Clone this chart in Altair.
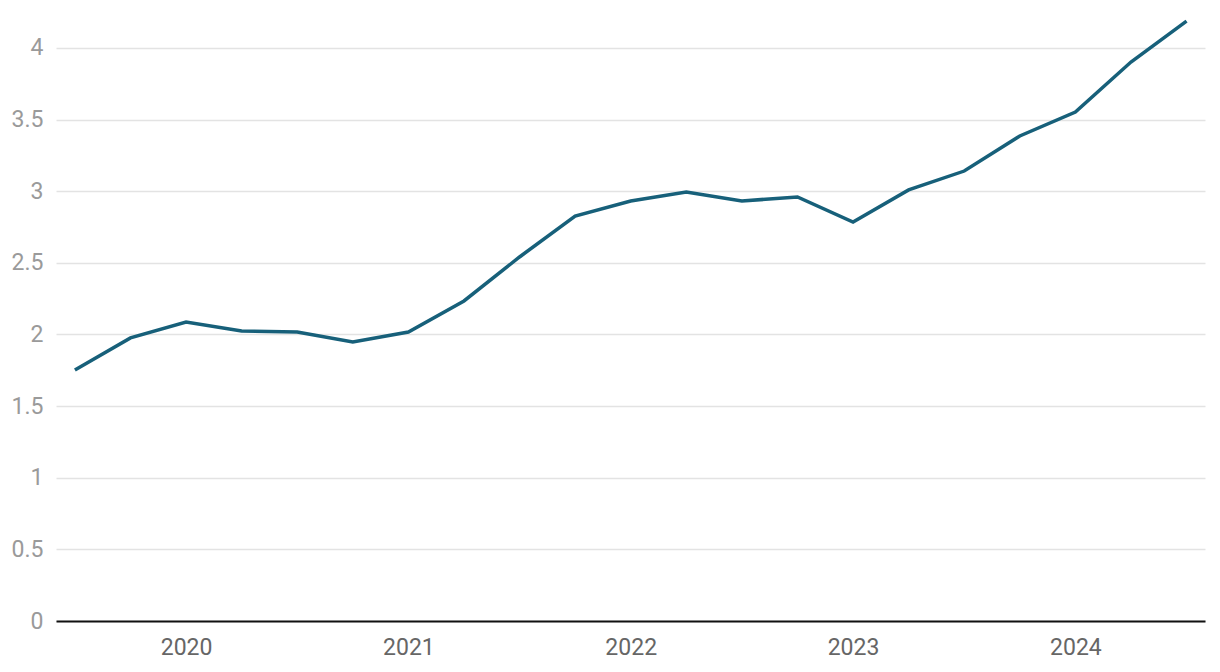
import altair as alt
import pandas as pd

quarters = [2019.5 + i * 0.25 for i in range(21)]
values = [1.752, 1.976, 2.087, 2.024, 2.017, 1.948, 2.017, 2.234, 2.541, 2.827,
          2.932, 2.995, 2.932, 2.960, 2.785, 3.009, 3.141, 3.386, 3.553, 3.902, 4.188]
year_ticks = [2020, 2021, 2022, 2023, 2024]
y_ticks = [0, 0.5, 1, 1.5, 2, 2.5, 3, 3.5, 4]

df = pd.DataFrame({"t": quarters, "v": values})

chart = alt.Chart(df).mark_line(color="#17607a", strokeWidth=3.5).encode(
    x=alt.X("t:Q", scale=alt.Scale(domain=[2019.415, 2024.583], nice=False, zero=False),
            axis=alt.Axis(values=year_ticks, format="d", title=None, grid=False, ticks=False,
                          domain=True, domainColor="#111111", domainWidth=2,
                          labelColor="#666666", labelFontSize=23, labelFont="Roboto",
                          labelPadding=15)),
    y=alt.Y("v:Q", scale=alt.Scale(domain=[0, 4.3], nice=False),
            axis=alt.Axis(values=y_ticks, format="~g", title=None, grid=True, gridColor="#e3e3e3",
                          gridWidth=1.5, ticks=False, domain=False,
                          labelColor="#9a9a9a", labelFontSize=23, labelFont="Roboto",
                          labelPadding=13)),
).properties(
    width=1149, height=616,
    padding={"left": 56, "top": 5, "right": 15, "bottom": 51},
    autosize=alt.AutoSizeParams(type="none"),
).configure_view(stroke=None)

chart.save("out.html", embed_options={"renderer": "svg", "actions": False})
